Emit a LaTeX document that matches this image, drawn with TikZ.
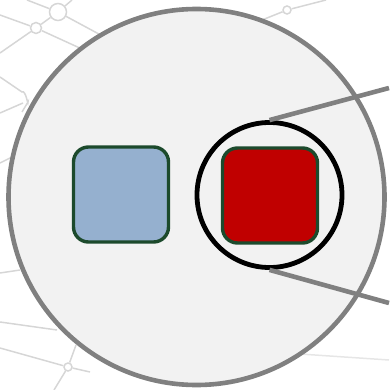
\documentclass[tikz,border=0pt]{standalone}
\usepackage{tikz}
\definecolor{bgfill}{HTML}{F2F2F2}
\definecolor{rimgray}{HTML}{808080}
\definecolor{netgray}{HTML}{D6D6D6}
\definecolor{bluefill}{HTML}{95B0CF}
\definecolor{redfill}{HTML}{C00000}
\definecolor{edgegreen}{HTML}{1C4A2C}
\tikzset{
  net/.style={draw=netgray, line width=1.5pt},
  netnode/.style={circle, draw=netgray, line width=1.5pt, inner sep=0pt},
  bigcirc/.style={circle, draw=rimgray, fill=bgfill, line width=4.6pt, minimum size=376pt, inner sep=0pt},
  sqbox/.style={rectangle, rounded corners=15pt, draw=edgegreen, line width=3.4pt, minimum size=95pt, inner sep=0pt},
  lens/.style={circle, draw=black, line width=4.8pt, minimum size=145pt, inner sep=0pt},
  ray/.style={draw=rimgray, line width=4.6pt}
}
\begin{document}
\begin{tikzpicture}[x=1pt,y=-1pt]
\useasboundingbox (0,0) rectangle (389,390);
% faint background network
\node[netnode, minimum size=17pt] (n1) at (58,12) {};
\node[netnode, minimum size=11pt] (n2) at (36,28) {};
\node[netnode, minimum size=8pt] (n3) at (68,367) {};
\node[netnode, minimum size=8pt] (n4) at (287,10) {};
\coordinate (a1) at (27,0);
\coordinate (a2) at (72,0);
\coordinate (a3) at (110,40);
\coordinate (a4) at (0,53);
\coordinate (a5) at (95,55);
\coordinate (a6) at (0,15);
\draw[net] (a1) -- (n1);
\draw[net] (a2) -- (n1);
\draw[net] (n1) -- (a3);
\draw[net] (n1) -- (n2);
\draw[net] (a6) -- (n2);
\draw[net] (a4) -- (n2);
\draw[net] (n2) -- (a5);
\draw[net] (0,77) -- (22,92) to[out=35,in=-90] (28,102) -- (22,112);
\draw[net] (0,113) -- (23,103);
\draw[net] (0,163) -- (12,157);
\draw[net] (0,273) -- (20,270);
\draw[net] (0,322) -- (57,330);
\coordinate (b1) at (0,348);
\coordinate (b2) at (76,345);
\coordinate (b3) at (54,390);
\coordinate (b4) at (90,372);
\draw[net] (b1) -- (n3);
\draw[net] (n3) -- (b2);
\draw[net] (n3) -- (b3);
\draw[net] (n3) -- (b4);
\coordinate (c1) at (262,20);
\coordinate (c2) at (326,0);
\draw[net] (c1) -- (n4);
\draw[net] (n4) -- (c2);
\draw[net, draw=netgray!60] (300,354) -- (389,360);
% main circle
\node[bigcirc] (big) at (196.5,197) {};
% boxes
\node[sqbox, fill=bluefill] (blue) at (121,194.5) {};
\node[sqbox, fill=redfill] (red) at (270,195.5) {};
% magnifier
\node[lens] (lens) at (269.5,195) {};
\coordinate (t1) at (389,88);
\coordinate (t2) at (389,303);
\draw[ray] (lens.north) -- (t1);
\draw[ray] (lens.south) -- (t2);
\end{tikzpicture}
\end{document}
